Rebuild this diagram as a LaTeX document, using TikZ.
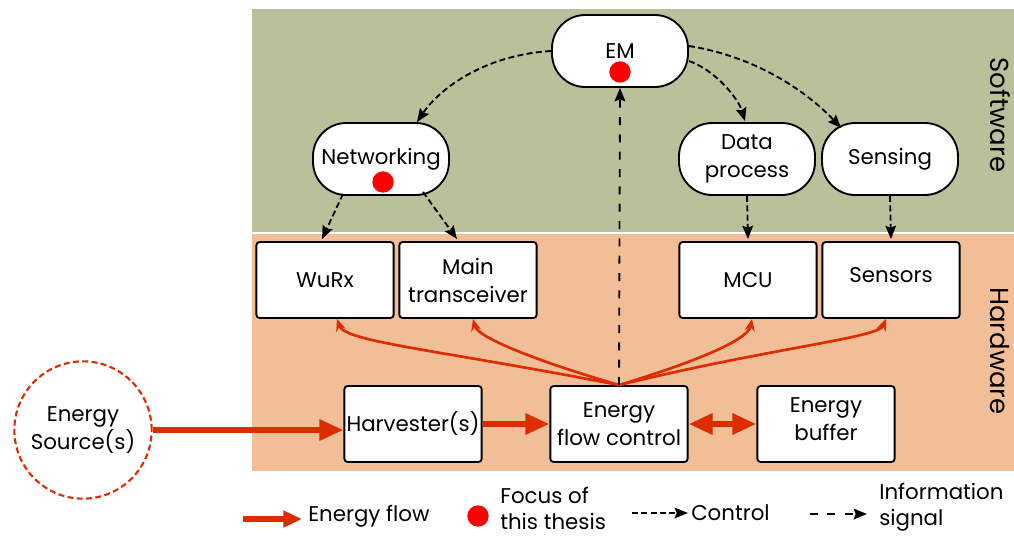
\documentclass[tikz,border=0pt]{standalone}
\usepackage{fontspec}
\setmainfont{Poppins}
\usepackage{xcolor}
\usetikzlibrary{arrows.meta,calc}

\definecolor{swgreen}{HTML}{B9C09A}
\definecolor{hworange}{HTML}{F2BE98}
\definecolor{ered}{HTML}{DD2C00}

\begin{document}
\begin{tikzpicture}[
    x=0.75pt, y=-0.75pt,
    every node/.style={font=\fontsize{16}{21}\selectfont, align=center},
    soft/.style={draw, line width=1.4pt, fill=white, rounded corners=25pt, minimum width=102pt, minimum height=54pt, inner sep=1pt},
    hard/.style={draw, line width=1.4pt, fill=white, rounded corners=2.5pt, minimum width=103pt, minimum height=57pt, inner sep=1pt},
    raised/.style={text depth=7.5pt},
    focus/.style={circle, fill=red, minimum size=16pt, inner sep=0pt},
    eflow/.style={draw=ered, line width=4.5pt, -{Triangle[length=18pt,width=15pt]}},
    efeed/.style={draw=ered, line width=2pt, -{Stealth[length=9pt,width=7.5pt]}},
    ctrl/.style={draw, line width=1.4pt, dash pattern=on 4.5pt off 2.5pt, -{Stealth[length=10pt,width=8pt,inset=1.5pt]}},
    info/.style={draw, line width=1.4pt, dash pattern=on 6pt off 7pt, -{Stealth[length=10pt,width=8pt,inset=1.5pt]}},
    layer/.style={rotate=-90, font=\fontsize{19.5}{22}\selectfont},
    legend/.style={anchor=west, align=left, inner sep=0pt, font=\fontsize{16}{19.5}\selectfont}
]
\useasboundingbox (0,0) rectangle (1014,536);
\fill[swgreen] (252,9) rectangle (1014,232);
\fill[hworange] (252,234) rectangle (1014,471);
\node[layer] (swlabel) at (1000,115) {Software};
\node[layer] (hwlabel) at (1000,351) {Hardware};

\node[soft] (em) at (620,51) {EM};
\node[soft] (net) at (381,159) {Networking};
\node[soft] (data) at (747,159) {Data\\process};
\node[soft] (sens) at (890,159) {Sensing};
\node[focus] (emdot) at (620,72) {};
\node[focus] (netdot) at (383,182) {};

\node[hard] (wurx) at (325,280) {WuRx};
\node[hard] (trx) at (468,280) {Main\\transceiver};
\node[hard] (mcu) at (748,280) {MCU};
\node[hard, raised] (sensors) at (891,280) {Sensors};

\node[hard] (harv) at (413,424) {Harvester(s)};
\node[hard] (efc) at (619,424) {Energy\\flow control};
\node[hard, raised] (buf) at (826,424) {Energy\\buffer};
\node[circle, draw=ered, line width=1.6pt, dash pattern=on 4.5pt off 2.5pt, minimum size=103pt] (src) at (83,430) {Energy\\Source(s)};

\draw[eflow] (src.east) -- (harv.west |- src.east);
\draw[eflow] (harv.east) -- (efc.west);
\draw[eflow, {Triangle[length=18pt,width=15pt]}-{Triangle[length=18pt,width=15pt]}] (efc.east) -- (buf.west |- efc.east);

\draw[efeed] (efc.north) .. controls (440,350) and (345,342) .. ($(wurx.south)+(12,0)$);
\draw[efeed] (efc.north) .. controls (540,362) and (478,338) .. ($(trx.south)+(5,0)$);
\draw[efeed] (efc.north) .. controls (695,362) and (748,340) .. ($(mcu.south)+(4,0)$);
\draw[efeed] (efc.north) .. controls (770,348) and (878,338) .. ($(sensors.south)+(-5,0)$);

\draw[info] (efc.north) -- (em.south);
\draw[ctrl] (em.west) .. controls (485,55) and (440,88) .. ($(net.north)+(36,0)$);
\draw[ctrl] ($(em.east)+(0,10)$) .. controls (715,70) and (738,98) .. ($(data.north)+(-2,-1)$);
\draw[ctrl] ($(em.east)+(0,-5)$) .. controls (765,58) and (815,100) .. ($(sens.north west)+(20,6)$);
\draw[ctrl] ($(net.south)+(-38,-2)$) -- ($(wurx.north)+(-3,-2)$);
\draw[ctrl] ($(net.south)+(42,-4)$) -- ($(trx.north)+(-11,-2)$);
\draw[ctrl] (data.south) -- ($(mcu.north)+(0,-2)$);
\draw[ctrl] (sens.south) -- ($(sensors.north)+(0,-2)$);

\coordinate (lgflow) at (243,519);
\node[legend] (lgflowtxt) at (308,516) {Energy flow};
\node[focus] (lgdot) at (478,516) {};
\node[legend] (lgdottxt) at (500,508) {Focus of\\this thesis};
\coordinate (lgctrl) at (632,513);
\node[legend] (lgctrltxt) at (691,513) {Control};
\coordinate (lginfo) at (810,514);
\node[legend] (lginfotxt) at (879,507) {Information\\signal};
\draw[eflow, line width=3.8pt, -{Triangle[length=14pt,width=12pt]}] (lgflow) -- ($(lgflowtxt.west |- lgflow)+(-6,0)$);
\draw[ctrl] (lgctrl) -- ($(lgctrltxt.west)+(-3,0)$);
\draw[info] (lginfo) -- ($(lginfotxt.west |- lginfo)+(-12,0)$);
\end{tikzpicture}
\end{document}
